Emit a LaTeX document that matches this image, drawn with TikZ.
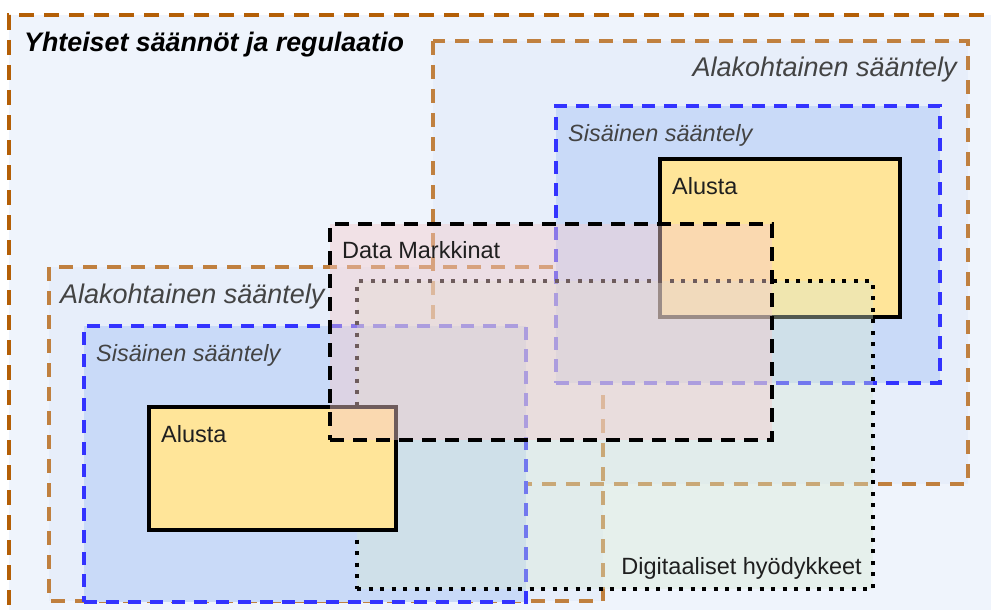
\documentclass[tikz,border=0pt]{standalone}
\usepackage{fontspec}
\setmainfont{Liberation Sans}
\definecolor{outerfill}{HTML}{EFF4FC}
\definecolor{outerline}{HTML}{B45F06}
\definecolor{subfill}{HTML}{E7EEFA}
\definecolor{subline}{HTML}{C0803F}
\definecolor{innerfill}{HTML}{C9DAF8}
\definecolor{innerline}{HTML}{3333FF}
\definecolor{platfill}{HTML}{FFE599}
\definecolor{dmfill}{HTML}{F4CCCC}
\definecolor{digfill}{HTML}{D9EAD3}
\definecolor{labelgray}{HTML}{434343}
\tikzset{
  box/.style={rectangle, inner sep=0pt, outer sep=0pt, anchor=north west},
  outerstyle/.style={box, fill=outerfill, draw=outerline, line width=3.5pt, dash pattern=on 15pt off 10pt},
  subfillstyle/.style={box, fill=subfill},
  sublinestyle/.style={draw=subline, line width=3.5pt, dash pattern=on 14pt off 10pt},
  innerstyle/.style={box, fill=innerfill, draw=innerline, line width=3.5pt, dash pattern=on 13pt off 9pt},
  platstyle/.style={box, fill=platfill, draw=black, line width=3.5pt},
  dmstyle/.style={box, fill=dmfill, fill opacity=0.45, draw=black, draw opacity=1, line width=4pt, dash pattern=on 14pt off 9pt},
  digstyle/.style={box, fill=digfill, fill opacity=0.38, draw=black, draw opacity=1, line width=4pt, dash pattern=on 4pt off 7.5pt},
  titlelbl/.style={inner sep=0pt, font=\fontsize{26.8}{32}\selectfont\bfseries\itshape, text=black},
  biglbl/.style={inner sep=0pt, font=\fontsize{27}{32}\selectfont\itshape, text=labelgray},
  midlbl/.style={inner sep=0pt, font=\fontsize{23.5}{28}\selectfont\itshape, text=labelgray},
  plainlbl/.style={inner sep=0pt, font=\fontsize{23.5}{28}\selectfont, text=black!88},
}
\begin{document}
\begin{tikzpicture}[x=1pt,y=-1pt]
\useasboundingbox (0,0) rectangle (991,610);
\fill[white] (0,0) rectangle (991,610);
\clip (0,0) rectangle (991,610);
% outer frame
\node[outerstyle, minimum width=1100pt, minimum height=700pt] (outer) at (9,15) {};
% sector-specific regulation fills
\node[subfillstyle, minimum width=535pt, minimum height=443pt] (ua) at (433,41) {};
\node[subfillstyle, minimum width=554pt, minimum height=334pt] (la) at (49,267) {};
\draw[sublinestyle] (ua.north west) rectangle (ua.south east);
\draw[sublinestyle] (la.north west) rectangle (la.south east);
% internal regulation, upper
\node[innerstyle, minimum width=384pt, minimum height=277pt] (us) at (556,106) {};
\node[platstyle, minimum width=240pt, minimum height=158pt] (upa) at (660,159) {};
% internal regulation, lower
\node[innerstyle, minimum width=442pt, minimum height=276pt] (ls) at (84,326) {};
% digital goods
\node[digstyle, minimum width=516pt, minimum height=308pt] (dig) at (357,281) {};
% lower platform
\node[platstyle, minimum width=247pt, minimum height=123pt] (lpa) at (149,407) {};
% data markets
\node[dmstyle, minimum width=442pt, minimum height=216pt] (dm) at (330,224) {};
% labels
\node[titlelbl, anchor=base west] (title) at (24,52) {Yhteiset säännöt ja regulaatio};
\node[biglbl, anchor=base east] (ualbl) at (957,77) {Alakohtainen sääntely};
\node[biglbl, anchor=base west] (lalbl) at (60,303) {Alakohtainen sääntely};
\node[midlbl, anchor=base west] (uslbl) at (568,141) {Sisäinen sääntely};
\node[midlbl, anchor=base west] (lslbl) at (96,361) {Sisäinen sääntely};
\node[plainlbl, anchor=base west] (upalbl) at (672,194) {Alusta};
\node[plainlbl, anchor=base west] (lpalbl) at (161,442) {Alusta};
\node[plainlbl, anchor=base west] (dmlbl) at (342,258) {Data Markkinat};
\node[plainlbl, anchor=base east] (diglbl) at (862,574) {Digitaaliset hyödykkeet};
\end{tikzpicture}
\end{document}
